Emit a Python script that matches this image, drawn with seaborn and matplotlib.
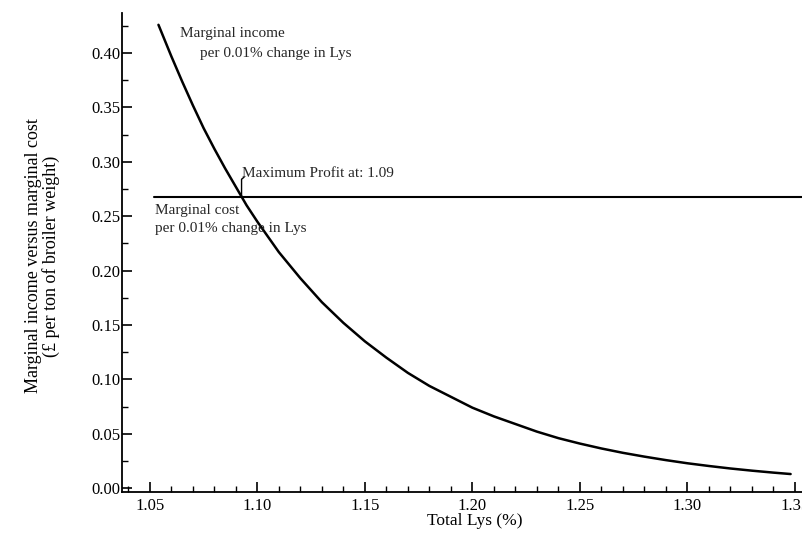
import numpy as np
import pandas as pd
import seaborn as sns
import matplotlib
matplotlib.use('Agg')
import matplotlib.pyplot as plt
from matplotlib.ticker import MultipleLocator, FormatStrFormatter

# values
lys = [1.054, 1.06, 1.065, 1.07, 1.075, 1.08, 1.085, 1.09, 1.095, 1.10,
       1.105, 1.11, 1.115, 1.12, 1.13, 1.14, 1.15, 1.16, 1.17, 1.18, 1.19,
       1.20, 1.21, 1.22, 1.23, 1.24, 1.25, 1.26, 1.27, 1.28, 1.29, 1.30,
       1.31, 1.32, 1.33, 1.34, 1.348]
marginal_income = [0.426, 0.397, 0.374, 0.352, 0.331, 0.312, 0.294, 0.277,
                   0.260, 0.245, 0.231, 0.217, 0.205, 0.193, 0.171, 0.152,
                   0.135, 0.120, 0.106, 0.094, 0.084, 0.074, 0.066, 0.059,
                   0.052, 0.046, 0.041, 0.0365, 0.0325, 0.029, 0.0258, 0.0229,
                   0.0204, 0.0181, 0.0161, 0.0143, 0.013]
cost_lys = [1.052, 1.354]
marginal_cost = [0.268, 0.268]
x_ticks = [1.05, 1.10, 1.15, 1.20, 1.25, 1.30, 1.35]
y_ticks = [0.00, 0.05, 0.10, 0.15, 0.20, 0.25, 0.30, 0.35, 0.40]

sns.set_theme(style='ticks')
plt.rcParams['font.family'] = ['Liberation Serif', 'DejaVu Serif']

df = pd.DataFrame({"lys": lys, "income": marginal_income})
df_cost = pd.DataFrame({"lys": cost_lys, "cost": marginal_cost})

fig = plt.figure(figsize=(8.02, 5.35), dpi=100)
ax = fig.add_axes([0.152, 0.080, 0.848, 0.896])

sns.lineplot(data=df, x="lys", y="income", ax=ax, color='black', linewidth=1.8)
sns.lineplot(data=df_cost, x="lys", y="cost", ax=ax, color='black', linewidth=1.5)

ax.set_xlim(1.037, 1.3533)
ax.set_ylim(-0.0037, 0.437)
ax.set_xticks(x_ticks)
ax.set_yticks(y_ticks)
ax.xaxis.set_minor_locator(MultipleLocator(0.01))
ax.yaxis.set_minor_locator(MultipleLocator(0.025))
ax.xaxis.set_major_formatter(FormatStrFormatter('%.2f'))
ax.yaxis.set_major_formatter(FormatStrFormatter('%.2f'))
ax.tick_params(which='major', direction='in', length=7, width=1.2, colors='black',
               labelsize=12)
ax.tick_params(axis='x', which='major', pad=4)
ax.tick_params(axis='y', which='major', pad=1)
ax.tick_params(which='minor', direction='in', length=4, width=1, colors='black')
sns.despine(ax=ax)
for s in ['left', 'bottom']:
    ax.spines[s].set_color('black')
    ax.spines[s].set_linewidth(1.3)

ax.set_xlabel("Total Lys (%)", fontsize=12.5, color='black')
ax.set_ylabel("Marginal income versus marginal cost\n(£ per ton of broiler weight)",
              fontsize=13, color='black', linespacing=1.0)
ax.xaxis.set_label_coords(0.519, -0.043)
ax.yaxis.set_label_coords(-0.091, 0.493)

# crossing point of the two curves
cross_x = np.interp(-marginal_cost[0], [-v for v in marginal_income], lys)
cross_y = marginal_cost[0]
ax.plot([cross_x, cross_x, cross_x + 0.0012], [cross_y, cross_y + 0.016, cross_y + 0.018],
        color='black', linewidth=1)
ax.text(cross_x + 0.0004, cross_y + 0.0215, "Maximum Profit at: %.2f" % cross_x,
        fontsize=11, va='center', ha='left')

ax.text(1.064, 0.418, "Marginal income", fontsize=11, va='center')
ax.text(1.0733, 0.400, "per 0.01% change in Lys", fontsize=11, va='center')
ax.text(1.0523, 0.2556, "Marginal cost", fontsize=11, va='center')
ax.text(1.0523, 0.2388, "per 0.01% change in Lys", fontsize=11, va='center')

fig.savefig("out.png", dpi=100)
